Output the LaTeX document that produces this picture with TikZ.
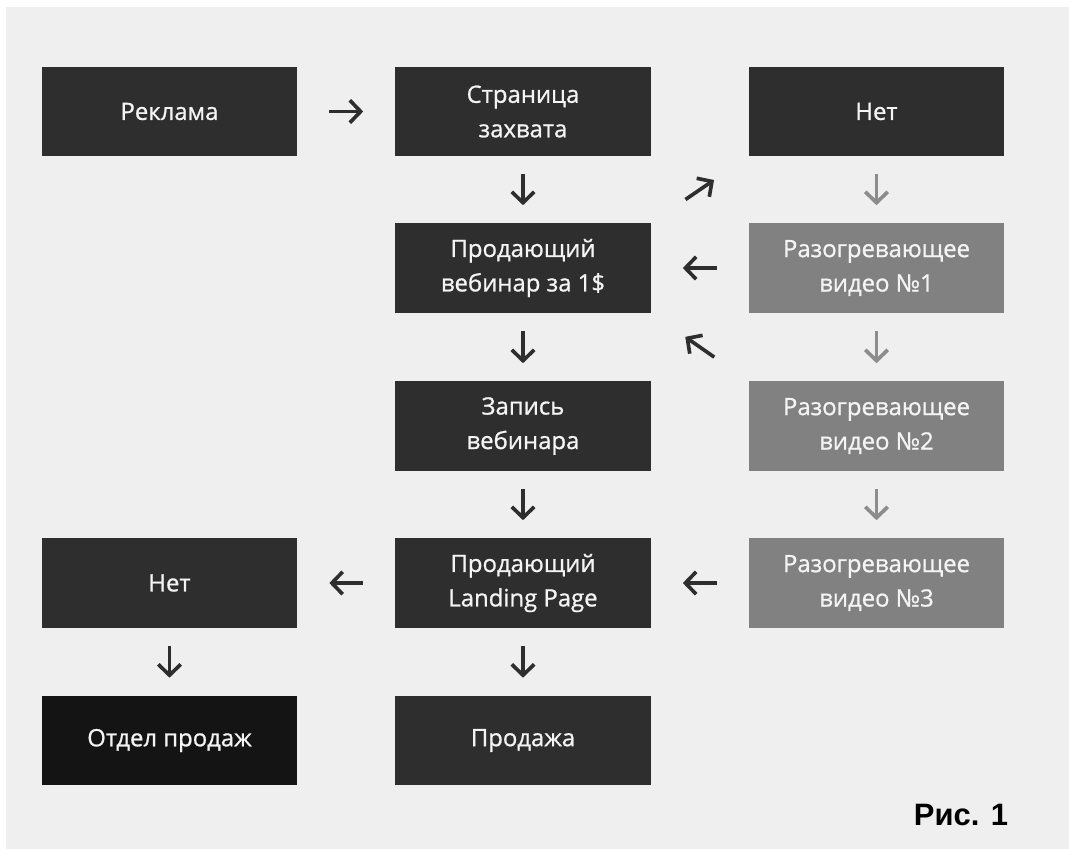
\documentclass[tikz,border=0pt]{standalone}
\usepackage{fontspec}
\setmainfont{Open Sans}
\newfontfamily\boxfont{Open Sans}[FakeBold=0.9]
\newfontfamily\figfont{Liberation Sans}
\usetikzlibrary{arrows.meta}
\definecolor{panel}{HTML}{EFEFEF}
\definecolor{boxdark}{HTML}{2E2E2E}
\definecolor{boxblack}{HTML}{141414}
\definecolor{boxgray}{HTML}{818181}
\definecolor{arrgray}{HTML}{8C8C8C}
\definecolor{txt}{HTML}{F4F4F4}

\begin{document}
\begin{tikzpicture}[x=0.025cm,y=-0.025cm,
		blk/.style={fill=boxdark,text=txt,minimum width=6.375cm,minimum height=2.225cm,
			inner sep=0pt,align=center,font=\boxfont\fontsize{17}{24.5}\selectfont},
		blkgray/.style={blk,fill=boxgray},
		blkblack/.style={blk,fill=boxblack},
		arr/.style={-{Straight Barb[length=2.7mm,width=5.6mm]},line width=2.6pt,color=boxdark},
		arrgr/.style={arr,color=arrgray},
		hgap/.style={shorten <=0.8cm,shorten >=0.8cm},
		vgap/.style={shorten <=0.45cm,shorten >=0.45cm},
		dgap/.style={shorten <=1.05cm,shorten >=1.05cm}]
		% background
		\fill[white] (0,0) rectangle (1069,849);
		\fill[panel] (6,7) rectangle (1069,849);
		% boxes
		\foreach \n/\x/\y/\t/\s in
		{
		reklama/169.5/111.5/{Реклама}/blk,
		zahvat/523/111.5/{Страница\\захвата}/blk,
		net1/876.5/111.5/{Нет}/blk,
		vebinar/523/268/{Продающий\\вебинар за 1\$}/blk,
		vid1/876.5/268/{Разогревающее\\видео №1}/blkgray,
		zapis/523/426/{Запись\\вебинара}/blk,
		vid2/876.5/426/{Разогревающее\\видео №2}/blkgray,
		net2/169.5/583/{Нет}/blk,
		landing/523/583/{Продающий\\Landing Page}/blk,
		vid3/876.5/583/{Разогревающее\\видео №3}/blkgray,
		otdel/169.5/740.5/{Отдел продаж}/blkblack,
		prodazha/523/740.5/{Продажа}/blk}
		\node[\s] (\n) at (\x,\y) {\t};
		% arrows
		\foreach \a/\b in {reklama/zahvat,landing/net2,vid3/landing,vid1/vebinar}
		\draw[arr,hgap] (\a) -- (\b);
		\foreach \a/\b in {zahvat/vebinar,vebinar/zapis,zapis/landing,landing/prodazha,net2/otdel}
		\draw[arr,vgap] (\a) -- (\b);
		\foreach \a/\b in {net1/vid1,vid1/vid2,vid2/vid3}
		\draw[arrgr,vgap] (\a) -- (\b);
		\draw[arr,dgap] (vebinar.north east) -- (net1.south west);
		\draw[arr,dgap] (vid2.north west) -- (vebinar.south east);
		\node[font=\figfont\bfseries\fontsize{22}{26}\selectfont,text=black] (fig) at (961,815) {Рис. 1};
	\end{tikzpicture}
\end{document}
